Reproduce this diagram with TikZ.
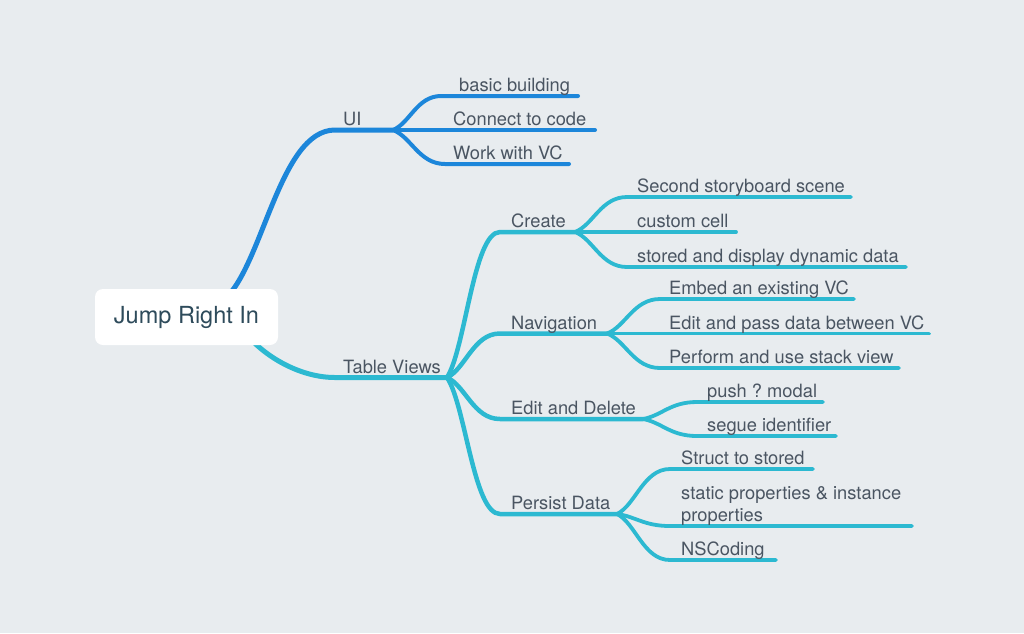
\documentclass[tikz,border=0pt]{standalone}
\usepackage{fontspec}
\setmainfont{TeX Gyre Heros}
\usetikzlibrary{calc}
\definecolor{bgc}{HTML}{E8ECEF}
\definecolor{txt}{HTML}{4A5562}
\definecolor{roottxt}{HTML}{2E4B5B}
\definecolor{ublue}{HTML}{1C86DA}
\definecolor{tcyan}{HTML}{2CB9D1}
\pgfdeclarelayer{bg}
\pgfsetlayers{bg,main}
\frenchspacing
\begin{document}
\begin{tikzpicture}[x=1pt,y=-1pt,
  lab/.style={anchor=base west, inner sep=0pt, text=txt, font=\fontsize{18.3}{22}\selectfont},
  rootbox/.style={fill=white, rounded corners=8pt, minimum width=183pt, minimum height=56pt, inner sep=0pt, text=roottxt, font=\fontsize{23.5}{28}\selectfont},
  mm/.style={to path={let \p1=(\tikztostart), \p2=(\tikztotarget) in .. controls ({\x1+0.35*(\x2-\x1)},{\y1+0.2*(\y2-\y1)}) and ({0.5*(\x1+\x2)},{\y2}) .. (\tikztotarget)}},
  blink/.style={draw=ublue, line cap=round, line join=round, line width=#1},
  clink/.style={draw=tcyan, line cap=round, line join=round, line width=#1}]
\useasboundingbox (0,0) rectangle (1024,633);
\begin{pgfonlayer}{bg}
\fill[bgc] (0,0) rectangle (1024,633);
\end{pgfonlayer}

% root
\node[rootbox] (root) at (186.5,317) {Jump Right In};
\coordinate (rUI) at ($(root.north)+(37.5,11)$);
\coordinate (rTV) at ($(root.south)+(53.5,-20)$);

% UI branch coordinates
\coordinate (uiS) at (335,130);
\coordinate (uiH) at (393,130);
\coordinate (bbS) at (441,96);  \coordinate (bbE) at (578,96);
\coordinate (ctcE) at (595,130);
\coordinate (wvS) at (445,164); \coordinate (wvE) at (569,164);

% Table Views coordinates
\coordinate (tvS) at (335,377.5);
\coordinate (tvH) at (447,377.5);
\coordinate (crS) at (500,232);  \coordinate (crH) at (575,232);
\coordinate (navS) at (500,333.5); \coordinate (navH) at (607,333.5);
\coordinate (edS) at (500,419);  \coordinate (edH) at (643,419);
\coordinate (pdS) at (500,514);  \coordinate (pdH) at (617,514);

\coordinate (ssS) at (627,197); \coordinate (ssE) at (851,197);
\coordinate (ccE) at (736,232);
\coordinate (sdS) at (627,267); \coordinate (sdE) at (906,267);

\coordinate (ebS) at (660,299); \coordinate (ebE) at (854,299);
\coordinate (epE) at (929,333.5);
\coordinate (psS) at (660,368); \coordinate (psE) at (899,368);

\coordinate (pmS) at (697,402); \coordinate (pmE) at (823,402);
\coordinate (siS) at (697,436); \coordinate (siE) at (836,436);

\coordinate (stS) at (670,469); \coordinate (stE) at (813,469);
\coordinate (spS) at (670,526); \coordinate (spE) at (912,526);
\coordinate (nsS) at (670,560); \coordinate (nsE) at (776,560);

\begin{pgfonlayer}{bg}
% UI
\draw[blink=5pt] (rUI) to[mm] (uiS) -- (uiH);
\draw[blink=4pt] (uiH) to[mm] (bbS) -- (bbE);
\draw[blink=4pt] (uiH) -- (ctcE);
\draw[blink=4pt] (uiH) to[mm] (wvS) -- (wvE);
% Table Views
\draw[clink=5pt] (rTV) .. controls ($(rTV)+(15,25)$) and ($(tvS)+(-40,0)$) .. (tvS) -- (tvH);
\draw[clink=4.5pt] (tvH) to[mm] (crS) -- (crH);
\draw[clink=4.5pt] (tvH) to[mm] (navS) -- (navH);
\draw[clink=4.5pt] (tvH) to[mm] (edS) -- (edH);
\draw[clink=4.5pt] (tvH) to[mm] (pdS) -- (pdH);
\draw[clink=3.8pt] (crH) to[mm] (ssS) -- (ssE);
\draw[clink=3.8pt] (crH) -- (ccE);
\draw[clink=3.8pt] (crH) to[mm] (sdS) -- (sdE);
\draw[clink=3.8pt] (navH) to[mm] (ebS) -- (ebE);
\draw[clink=3.8pt] (navH) -- (epE);
\draw[clink=3.8pt] (navH) to[mm] (psS) -- (psE);
\draw[clink=3.8pt] (edH) to[mm] (pmS) -- (pmE);
\draw[clink=3.8pt] (edH) to[mm] (siS) -- (siE);
\draw[clink=3.8pt] (pdH) to[mm] (stS) -- (stE);
\draw[clink=3.8pt] (pdH) to[mm] (spS) -- (spE);
\draw[clink=3.8pt] (pdH) to[mm] (nsS) -- (nsE);
\end{pgfonlayer}

% labels
\node[lab] (lUI) at (343,125.5) {UI};
\node[lab] (lbb) at (459,91.5) {basic building};
\node[lab] (lctc) at (453,125.5) {Connect to code};
\node[lab] (lwv) at (453,159.5) {Work with VC};

\node[lab] (ltv) at (343,373) {Table Views};
\node[lab] (lcr) at (511,227.5) {Create};
\node[lab] (lnav) at (511,329) {Navigation};
\node[lab] (led) at (511,414.5) {Edit and Delete};
\node[lab] (lpd) at (511,509.5) {Persist Data};

\node[lab] (lss) at (637,192.5) {Second storyboard scene};
\node[lab] (lcc) at (637,227.5) {custom cell};
\node[lab] (lsd) at (637,262.5) {stored and display dynamic data};

\node[lab] (leb) at (669,294.5) {Embed an existing VC};
\node[lab] (lep) at (669,329) {Edit and pass data between VC};
\node[lab] (lps) at (669,363.5) {Perform and use stack view};

\node[lab] (lpm) at (707,397.5) {push ? modal};
\node[lab] (lsi) at (707,431.5) {segue identifier};

\node[lab] (lst) at (681,464.5) {Struct to stored};
\node[lab, anchor=south west, align=left] (lsp) at (681,525.5) {static properties \& instance\\properties};
\node[lab] (lns) at (681,555.5) {NSCoding};
\end{tikzpicture}
\end{document}
